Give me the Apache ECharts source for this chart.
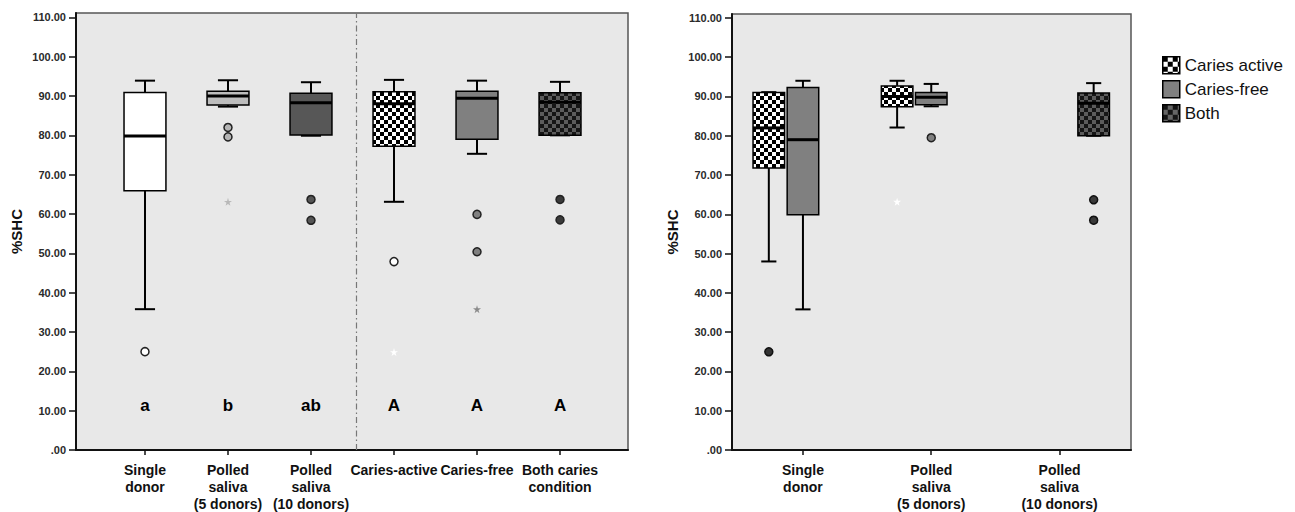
<!DOCTYPE html>
<html>
<head>
<meta charset="utf-8">
<script src="https://cdn.jsdelivr.net/npm/echarts@6/dist/echarts.min.js"></script>
<style>
html,body{margin:0;padding:0;background:#fff;}
#chart{width:1295px;height:512px;}
</style>
</head>
<body>
<div id="chart"></div>
<script>
// ---------------- DATA ----------------
const leftCats = ['Single\ndonor', 'Polled\nsaliva\n(5 donors)', 'Polled\nsaliva\n(10 donors)', 'Caries-active', 'Caries-free', 'Both caries\ncondition'];
// [min, Q1, median, Q3, max] per category
const leftStats = [
  [35.8, 65.9, 79.8, 90.9, 93.9],
  [87.3, 87.7, 90.0, 91.2, 94.0],
  [79.9, 80.1, 88.3, 90.7, 93.5],
  [63.1, 77.2, 88.0, 91.1, 94.1],
  [75.3, 79.0, 89.4, 91.2, 93.9],
  [80.0, 80.0, 88.4, 90.8, 93.6]
];
const leftOutliers = [[0, 25.0], [1, 82.0], [1, 79.6], [2, 63.7], [2, 58.4], [3, 47.9], [4, 59.9], [4, 50.4], [5, 63.7], [5, 58.5]];
const leftExtremes = [[1, 63.1], [3, 24.9], [4, 35.8]];
const leftLetters = ['a', 'b', 'ab', 'A', 'A', 'A'];

const rightCats = ['Single\ndonor', 'Polled\nsaliva\n(5 donors)', 'Polled\nsaliva\n(10 donors)'];
const rightGroups = ['Caries active', 'Caries-free', 'Both'];
const rightActive = [[48.0, 71.8, 82.0, 91.0, 91.1], [82.1, 87.4, 90.0, 92.7, 94.0], null];
const rightFree = [[35.8, 59.9, 79.0, 92.3, 94.0], [87.5, 87.9, 89.8, 91.0, 93.2], null];
const rightBoth = [null, null, [80.0, 80.0, 88.3, 90.9, 93.4]];
const rightActiveOutliers = [[0, 25.0]];
const rightActiveExtremes = [[1, 63.2]];
const rightFreeOutliers = [[1, 79.5]];
const rightBothOutliers = [[2, 63.7], [2, 58.5]];

const yTicks = [0, 10, 20, 30, 40, 50, 60, 70, 80, 90, 100, 110];

// ---------------- STYLES ----------------
const FONT = "'Liberation Sans', Arial, sans-serif";
function checker(size, c1, c2) {
  const cv = document.createElement('canvas');
  cv.width = size * 2; cv.height = size * 2;
  const ctx = cv.getContext('2d');
  ctx.fillStyle = c1; ctx.fillRect(0, 0, size * 2, size * 2);
  ctx.fillStyle = c2; ctx.fillRect(0, 0, size, size); ctx.fillRect(size, size, size, size);
  return { image: cv, repeat: 'repeat', imageWidth: size * 2, imageHeight: size * 2 };
}
const patActive = checker(4, '#ffffff', '#000000');
const patBoth = checker(4, '#5c5c5c', '#151515');
const patActiveLegend = checker(5, '#ffffff', '#000000');
const patBothLegend = checker(5, '#666666', '#151515');

const leftFills = ['#ffffff', '#bdbdbd', '#575757', patActive, '#808080', patBoth];
const leftOutFills = ['#ffffff', '#b5b5b5', '#555555', '#ffffff', '#808080', '#3a3a3a'];
const leftStarColors = ['#fff', '#b8b8b8', '#555', '#ffffff', '#8a8a8a', '#333'];

const groupOffsets = [-0.266, 0, 0.266];
const STAR = 'path://M50,0 L61,35 L98,35 L68,57 L79,91 L50,70 L21,91 L32,57 L2,35 L39,35 Z';

function boxRenderer(offset, widthU, fillFn) {
  return function (params, api) {
    const c = api.value(0) + offset;
    const p = i => api.coord([c, api.value(i)]);
    const pMin = p(1), pQ1 = p(2), pMed = p(3), pQ3 = p(4), pMax = p(5);
    const w = api.size([widthU, 0])[0];
    const cw = w * 0.48;
    const x = pMin[0];
    const line = (x1, y1, x2, y2, lw) => ({ type: 'line', shape: { x1, y1, x2, y2 }, style: { stroke: '#000', lineWidth: lw } });
    return {
      type: 'group', children: [
        line(x, pMax[1], x, pQ3[1], 2),
        line(x - cw / 2, pMax[1], x + cw / 2, pMax[1], 2),
        line(x, pQ1[1], x, pMin[1], 2),
        line(x - cw / 2, pMin[1], x + cw / 2, pMin[1], 2),
        { type: 'rect', shape: { x: x - w / 2, y: pQ3[1], width: w, height: Math.max(pQ1[1] - pQ3[1], 0.5) }, style: { fill: fillFn(params.dataIndex), stroke: '#000', lineWidth: 1.5 } },
        line(x - w / 2, pMed[1], x + w / 2, pMed[1], 3)
      ]
    };
  };
}

function statsToData(stats) {
  const out = [];
  stats.forEach((s, i) => { if (s) out.push([i].concat(s)); });
  return out;
}

const leftBoxData = statsToData(leftStats);

function yAxisCfg(gridIndex) {
  return {
    type: 'value', gridIndex: gridIndex, min: 0, max: gridIndex === 0 ? 111.1 : 111.0,
    name: '%SHC', nameLocation: 'middle', nameGap: 52,
    nameTextStyle: { fontFamily: FONT, fontSize: 15, fontWeight: 'bold', color: '#111' },
    axisLine: { show: true, onZero: false, lineStyle: { color: '#111', width: 2 } },
    axisTick: { show: true, length: 7, customValues: yTicks, lineStyle: { color: '#111', width: 1.5 } },
    axisLabel: { customValues: yTicks, margin: 10, fontFamily: FONT, fontSize: 11, fontWeight: 'bold', color: '#2a2a2a',
      formatter: v => v === 0 ? '.00' : Number(v).toFixed(2) },
    splitLine: { show: false }
  };
}
function xAxisCfg(gridIndex, cats, min, max) {
  const idx = cats.map((_, i) => i);
  return {
    type: 'value', gridIndex: gridIndex, min: min, max: max,
    axisLine: { show: true, onZero: false, lineStyle: { color: '#111', width: 2 } },
    axisTick: { show: true, length: 5, customValues: idx, lineStyle: { color: '#111', width: 1.5 } },
    axisLabel: { customValues: idx, margin: 11, fontFamily: FONT, fontSize: 14, fontWeight: 'bold', lineHeight: 17, color: '#111',
      formatter: v => cats[Math.round(v)] },
    splitLine: { show: false }
  };
}

const series = [];
// Left boxes
series.push({
  type: 'custom', xAxisIndex: 0, yAxisIndex: 0, data: leftBoxData,
  encode: { x: 0, y: [1, 2, 3, 4, 5] },
  renderItem: boxRenderer(0, 0.505, i => leftFills[leftBoxData[i][0]]),
  silent: true,
  markLine: {
    silent: true, symbol: 'none', label: { show: false },
    lineStyle: { type: [6, 3, 1.5, 3], color: '#777', width: 1.2 },
    data: [{ xAxis: 2.554 }]
  }
});
series.push({
  type: 'scatter', xAxisIndex: 0, yAxisIndex: 0, data: leftOutliers, symbol: 'circle', symbolSize: 8, silent: true,
  itemStyle: { color: p => leftOutFills[p.data[0]], borderColor: '#222', borderWidth: 1.5, opacity: 1 }
});
series.push({
  type: 'scatter', xAxisIndex: 0, yAxisIndex: 0, data: leftExtremes, symbol: STAR, symbolSize: 8, silent: true,
  itemStyle: { color: p => leftStarColors[p.data[0]], opacity: 1 }
});
series.push({
  type: 'scatter', xAxisIndex: 0, yAxisIndex: 0, silent: true,
  data: leftLetters.map((t, i) => [i, 11.3, t]), symbolSize: 0,
  label: { show: true, position: 'inside', formatter: p => p.data[2], fontFamily: FONT, fontSize: 17, fontWeight: 'bold', color: '#000', opacity: 1 }
});

// Right boxes
const rightFillsMain = [patActive, '#808080', patBoth];
const rightSets = [rightActive, rightFree, rightBoth];
rightGroups.forEach((g, gi) => {
  series.push({
    type: 'custom', name: g, xAxisIndex: 1, yAxisIndex: 1, data: statsToData(rightSets[gi]),
    encode: { x: 0, y: [1, 2, 3, 4, 5] }, silent: true,
    itemStyle: { color: rightFillsMain[gi] },
    renderItem: boxRenderer(groupOffsets[gi], 0.246, () => rightFillsMain[gi])
  });
});
const shift = (arr, gi) => arr.map(d => [d[0] + groupOffsets[gi], d[1]]);
series.push({
  type: 'scatter', xAxisIndex: 1, yAxisIndex: 1, data: shift(rightActiveOutliers, 0), symbolSize: 8, silent: true,
  itemStyle: { color: '#333', borderColor: '#111', borderWidth: 1.5, opacity: 1 }
});
series.push({
  type: 'scatter', xAxisIndex: 1, yAxisIndex: 1, data: shift(rightActiveExtremes, 0), symbol: STAR, symbolSize: 8, silent: true,
  itemStyle: { color: '#ffffff', opacity: 1 }
});
series.push({
  type: 'scatter', xAxisIndex: 1, yAxisIndex: 1, data: shift(rightFreeOutliers, 1), symbolSize: 8, silent: true,
  itemStyle: { color: '#808080', borderColor: '#222', borderWidth: 1.5, opacity: 1 }
});
series.push({
  type: 'scatter', xAxisIndex: 1, yAxisIndex: 1, data: shift(rightBothOutliers, 2), symbolSize: 8, silent: true,
  itemStyle: { color: '#3a3a3a', borderColor: '#111', borderWidth: 1.5, opacity: 1 }
});

const chart = echarts.init(document.getElementById('chart'), null, { renderer: 'svg' });
chart.setOption({
  animation: false,
  backgroundColor: '#ffffff',
  textStyle: { fontFamily: FONT },
  grid: [
    { left: 76, top: 13, right: 667, bottom: 61, show: true, backgroundColor: '#e8e8e8', borderColor: '#555', borderWidth: 1.5 },
    { left: 732, top: 14, right: 164, bottom: 57, show: true, backgroundColor: '#e8e8e8', borderColor: '#555', borderWidth: 1.5 }
  ],
  xAxis: [
    xAxisCfg(0, leftCats, -0.831, 5.819),
    xAxisCfg(1, rightCats, -0.553, 2.557)
  ],
  yAxis: [yAxisCfg(0), yAxisCfg(1)],
  legend: {
    orient: 'vertical', left: 1162, top: 56, padding: 0, itemGap: 5.5,
    itemWidth: 17, itemHeight: 17, icon: 'rect', selectedMode: false,
    textStyle: { fontFamily: FONT, fontSize: 17, color: '#111' },
    data: [
      { name: 'Caries active', itemStyle: { color: patActiveLegend, borderColor: '#000', borderWidth: 1.5 } },
      { name: 'Caries-free', itemStyle: { color: '#808080', borderColor: '#000', borderWidth: 1.5 } },
      { name: 'Both', itemStyle: { color: patBothLegend, borderColor: '#000', borderWidth: 1.5 } }
    ]
  },
  series: series
});
</script>
</body>
</html>
